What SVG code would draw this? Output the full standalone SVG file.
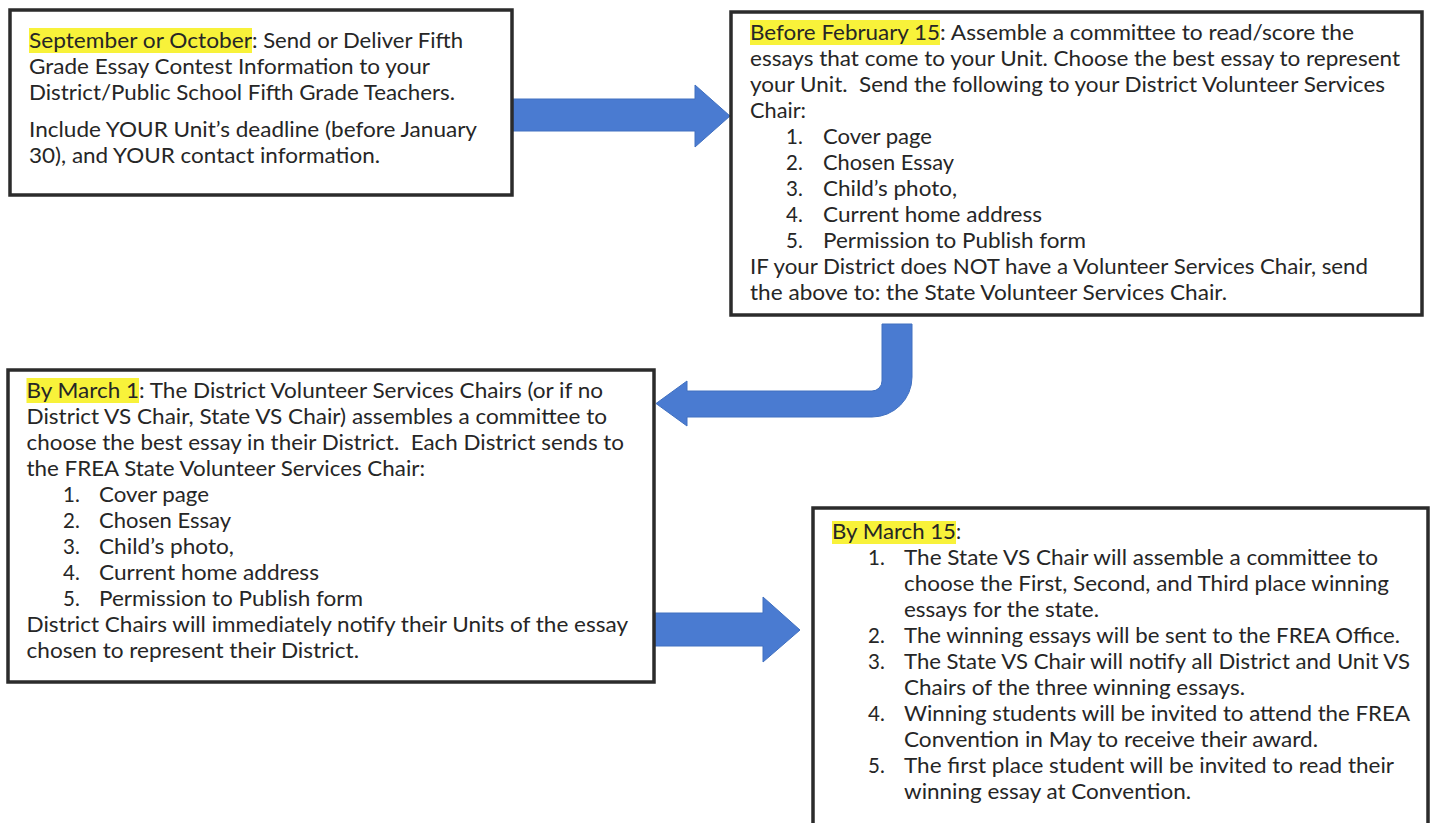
<svg xmlns="http://www.w3.org/2000/svg" width="1433" height="823" viewBox="0 0 1433 823">
<style>
.box{fill:#fff;stroke:#2b2b2b;stroke-width:3.5}
.t{font-family:Lato,"Open Sans","Liberation Sans",sans-serif;font-size:20.5px;fill:#262626;white-space:pre}
.hl{fill:#f8f23a}
.arrow{fill:#4a7bd1;stroke:#4070c0;stroke-width:1}
</style>
<rect x="0" y="0" width="1433" height="823" fill="#fff"/>
<g id="connectors">
<polygon class="arrow" points="512,99 695,99 695,85 730,116 695,147 695,131 512,131"/>
<path class="arrow" d="M882,324 L912,324 L912,377 A40,40 0 0 1 872,417 L687,417 L687,426 L656,403.5 L687,381 L687,391 L872,391 A10,10 0 0 0 882,381 Z"/>
<polygon class="arrow" points="652,613 763,613 763,597 800,630 763,662 763,646 652,646"/>
</g>
<g id="node-sept">
<rect class="box" x="10" y="10" width="502" height="185"/>
<rect class="hl" x="29" y="28" width="223" height="25"/>
<text class="t" x="29" y="48" textLength="223" lengthAdjust="spacingAndGlyphs">September or October</text>
<text class="t" x="252" y="48" textLength="211" lengthAdjust="spacingAndGlyphs">: Send or Deliver Fifth</text>
<text class="t" x="29" y="74" textLength="401" lengthAdjust="spacingAndGlyphs">Grade Essay Contest Information to your</text>
<text class="t" x="29" y="100" textLength="426" lengthAdjust="spacingAndGlyphs">District/Public School Fifth Grade Teachers.</text>
<text class="t" x="29" y="137" textLength="448" lengthAdjust="spacingAndGlyphs">Include YOUR Unit’s deadline (before January</text>
<text class="t" x="29" y="163" textLength="351" lengthAdjust="spacingAndGlyphs">30), and YOUR contact information.</text>
</g>
<g id="node-feb">
<rect class="box" x="731" y="12" width="691" height="303"/>
<rect class="hl" x="750" y="20" width="190" height="25"/>
<text class="t" x="750" y="40" textLength="190" lengthAdjust="spacingAndGlyphs">Before February 15</text>
<text class="t" x="940" y="40" textLength="414" lengthAdjust="spacingAndGlyphs">: Assemble a committee to read/score the</text>
<text class="t" x="750" y="66" textLength="650" lengthAdjust="spacingAndGlyphs">essays that come to your Unit. Choose the best essay to represent</text>
<text class="t" x="750" y="92" textLength="635" lengthAdjust="spacingAndGlyphs">your Unit.  Send the following to your District Volunteer Services</text>
<text class="t" x="750" y="118" textLength="56" lengthAdjust="spacingAndGlyphs">Chair:</text>
<text class="t" x="786" y="144">1.</text><text class="t" x="823" y="144" textLength="109" lengthAdjust="spacingAndGlyphs">Cover page</text>
<text class="t" x="786" y="170">2.</text><text class="t" x="823" y="170" textLength="131" lengthAdjust="spacingAndGlyphs">Chosen Essay</text>
<text class="t" x="786" y="196">3.</text><text class="t" x="823" y="196" textLength="134" lengthAdjust="spacingAndGlyphs">Child’s photo,</text>
<text class="t" x="786" y="222">4.</text><text class="t" x="823" y="222" textLength="219" lengthAdjust="spacingAndGlyphs">Current home address</text>
<text class="t" x="786" y="248">5.</text><text class="t" x="823" y="248" textLength="263" lengthAdjust="spacingAndGlyphs">Permission to Publish form</text>
<text class="t" x="750" y="274" textLength="618" lengthAdjust="spacingAndGlyphs">IF your District does NOT have a Volunteer Services Chair, send</text>
<text class="t" x="750" y="300" textLength="477" lengthAdjust="spacingAndGlyphs">the above to: the State Volunteer Services Chair.</text>
</g>
<g id="node-mar1">
<rect class="box" x="8" y="370" width="646" height="312"/>
<rect class="hl" x="26.5" y="378" width="112.5" height="25"/>
<text class="t" x="26.5" y="398" textLength="112.5" lengthAdjust="spacingAndGlyphs">By March 1</text>
<text class="t" x="139" y="398" textLength="464" lengthAdjust="spacingAndGlyphs">: The District Volunteer Services Chairs (or if no</text>
<text class="t" x="26.5" y="424" textLength="580.5" lengthAdjust="spacingAndGlyphs">District VS Chair, State VS Chair) assembles a committee to</text>
<text class="t" x="26.5" y="450" textLength="597.5" lengthAdjust="spacingAndGlyphs">choose the best essay in their District.  Each District sends to</text>
<text class="t" x="26.5" y="476" textLength="398.5" lengthAdjust="spacingAndGlyphs">the FREA State Volunteer Services Chair:</text>
<text class="t" x="63" y="502">1.</text><text class="t" x="99" y="502" textLength="110" lengthAdjust="spacingAndGlyphs">Cover page</text>
<text class="t" x="63" y="528">2.</text><text class="t" x="99" y="528" textLength="132" lengthAdjust="spacingAndGlyphs">Chosen Essay</text>
<text class="t" x="63" y="554">3.</text><text class="t" x="99" y="554" textLength="135" lengthAdjust="spacingAndGlyphs">Child’s photo,</text>
<text class="t" x="63" y="580">4.</text><text class="t" x="99" y="580" textLength="220" lengthAdjust="spacingAndGlyphs">Current home address</text>
<text class="t" x="63" y="606">5.</text><text class="t" x="99" y="606" textLength="264" lengthAdjust="spacingAndGlyphs">Permission to Publish form</text>
<text class="t" x="26.5" y="632" textLength="601.5" lengthAdjust="spacingAndGlyphs">District Chairs will immediately notify their Units of the essay</text>
<text class="t" x="26.5" y="658" textLength="332.5" lengthAdjust="spacingAndGlyphs">chosen to represent their District.</text>
</g>
<g id="node-mar15">
<rect class="box" x="813" y="508" width="615" height="330"/>
<rect class="hl" x="832" y="521" width="124" height="23"/>
<text class="t" x="832" y="539" textLength="124" lengthAdjust="spacingAndGlyphs">By March 15</text>
<text class="t" x="956" y="539">:</text>
<text class="t" x="868" y="565">1.</text><text class="t" x="904" y="565" textLength="474" lengthAdjust="spacingAndGlyphs">The State VS Chair will assemble a committee to</text>
<text class="t" x="904" y="591" textLength="485" lengthAdjust="spacingAndGlyphs">choose the First, Second, and Third place winning</text>
<text class="t" x="904" y="617" textLength="195" lengthAdjust="spacingAndGlyphs">essays for the state.</text>
<text class="t" x="868" y="643">2.</text><text class="t" x="904" y="643" textLength="496" lengthAdjust="spacingAndGlyphs">The winning essays will be sent to the FREA Office.</text>
<text class="t" x="868" y="669">3.</text><text class="t" x="904" y="669" textLength="506" lengthAdjust="spacingAndGlyphs">The State VS Chair will notify all District and Unit VS</text>
<text class="t" x="904" y="695" textLength="341" lengthAdjust="spacingAndGlyphs">Chairs of the three winning essays.</text>
<text class="t" x="868" y="721">4.</text><text class="t" x="904" y="721" textLength="506" lengthAdjust="spacingAndGlyphs">Winning students will be invited to attend the FREA</text>
<text class="t" x="904" y="747" textLength="414" lengthAdjust="spacingAndGlyphs">Convention in May to receive their award.</text>
<text class="t" x="868" y="773">5.</text><text class="t" x="904" y="773" textLength="490" lengthAdjust="spacingAndGlyphs">The first place student will be invited to read their</text>
<text class="t" x="904" y="799" textLength="287" lengthAdjust="spacingAndGlyphs">winning essay at Convention.</text>
</g>
</svg>
